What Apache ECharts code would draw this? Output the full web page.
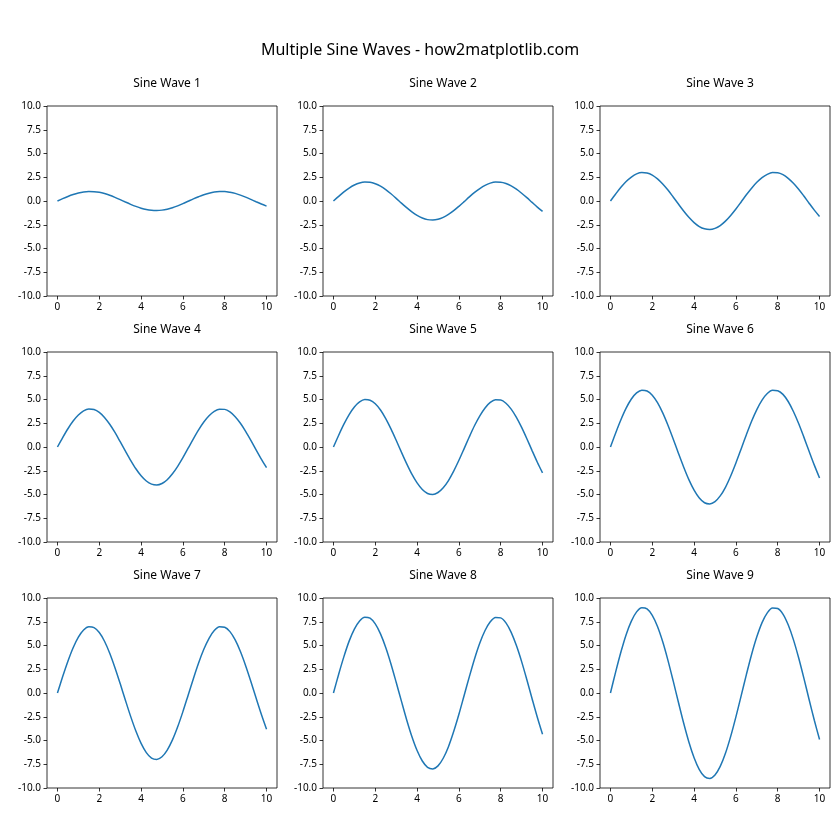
<!DOCTYPE html>
<html><head><meta charset="utf-8">
<script src="https://cdn.jsdelivr.net/npm/echarts@6/dist/echarts.min.js"></script>
<style>html,body{margin:0;padding:0;background:#fff}#c{width:840px;height:840px}</style>
</head><body><div id="c"></div>
<script>
const xValues = [0,0.25,0.5,0.75,1,1.25,1.5,1.75,2,2.25,2.5,2.75,3,3.25,3.5,3.75,4,4.25,4.5,4.75,5,5.25,5.5,5.75,6,6.25,6.5,6.75,7,7.25,7.5,7.75,8,8.25,8.5,8.75,9,9.25,9.5,9.75,10];
const titles = ["Sine Wave 1","Sine Wave 2","Sine Wave 3","Sine Wave 4","Sine Wave 5","Sine Wave 6","Sine Wave 7","Sine Wave 8","Sine Wave 9"];
const wave1 = [0,0.25,0.48,0.68,0.84,0.95,1.0,0.98,0.91,0.78,0.6,0.38,0.14,-0.11,-0.35,-0.57,-0.76,-0.9,-0.98,-1.0,-0.96,-0.86,-0.71,-0.51,-0.28,-0.03,0.22,0.45,0.66,0.82,0.94,0.99,0.99,0.92,0.8,0.62,0.41,0.17,-0.08,-0.32,-0.54];
const wave2 = [0,0.49,0.96,1.36,1.68,1.9,1.99,1.97,1.82,1.56,1.2,0.76,0.28,-0.22,-0.7,-1.14,-1.51,-1.79,-1.96,-2.0,-1.92,-1.72,-1.41,-1.02,-0.56,-0.07,0.43,0.9,1.31,1.65,1.88,1.99,1.98,1.85,1.6,1.25,0.82,0.35,-0.15,-0.64,-1.09];
const wave3 = [0,0.74,1.44,2.05,2.52,2.85,2.99,2.95,2.73,2.33,1.79,1.15,0.42,-0.32,-1.05,-1.72,-2.27,-2.69,-2.93,-3.0,-2.88,-2.58,-2.12,-1.52,-0.84,-0.1,0.65,1.35,1.97,2.47,2.81,2.99,2.97,2.77,2.39,1.87,1.24,0.52,-0.23,-0.96,-1.63];
const wave4 = [0,0.99,1.92,2.73,3.36,3.8,3.99,3.94,3.64,3.11,2.39,1.53,0.56,-0.43,-1.4,-2.29,-3.03,-3.58,-3.91,-4.0,-3.84,-3.44,-2.82,-2.03,-1.12,-0.13,0.86,1.8,2.63,3.29,3.75,3.98,3.96,3.69,3.19,2.5,1.65,0.7,-0.3,-1.28,-2.18];
const wave5 = [0,1.24,2.4,3.41,4.21,4.74,4.99,4.92,4.55,3.89,2.99,1.91,0.71,-0.54,-1.75,-2.86,-3.78,-4.47,-4.89,-5.0,-4.79,-4.29,-3.53,-2.54,-1.4,-0.17,1.08,2.26,3.28,4.11,4.69,4.97,4.95,4.61,3.99,3.12,2.06,0.87,-0.38,-1.6,-2.72];
const wave6 = [0,1.48,2.87,4.09,5.05,5.69,5.98,5.9,5.46,4.67,3.59,2.29,0.85,-0.65,-2.1,-3.43,-4.54,-5.37,-5.87,-5.99,-5.75,-5.15,-4.24,-3.05,-1.68,-0.2,1.29,2.71,3.94,4.94,5.63,5.97,5.93,5.54,4.79,3.74,2.47,1.04,-0.45,-1.91,-3.26];
const wave7 = [0,1.73,3.35,4.77,5.89,6.64,6.98,6.89,6.36,5.45,4.19,2.67,0.99,-0.76,-2.46,-4.0,-5.3,-6.27,-6.85,-6.99,-6.71,-6.01,-4.94,-3.56,-1.96,-0.23,1.51,3.16,4.6,5.76,6.57,6.97,6.92,6.46,5.59,4.37,2.88,1.22,-0.53,-2.23,-3.81];
const wave8 = [0,1.98,3.83,5.46,6.73,7.59,7.98,7.87,7.27,6.22,4.79,3.06,1.13,-0.86,-2.81,-4.58,-6.06,-7.16,-7.82,-7.99,-7.67,-6.87,-5.65,-4.06,-2.24,-0.26,1.72,3.61,5.26,6.58,7.5,7.96,7.91,7.38,6.38,4.99,3.3,1.39,-0.6,-2.55,-4.35];
const wave9 = [0,2.22,4.31,6.14,7.57,8.54,8.97,8.86,8.18,7.0,5.39,3.44,1.27,-0.97,-3.16,-5.15,-6.81,-8.06,-8.8,-8.99,-8.63,-7.73,-6.35,-4.57,-2.51,-0.3,1.94,4.06,5.91,7.41,8.44,8.96,8.9,8.31,7.18,5.62,3.71,1.57,-0.68,-2.87,-4.9];
const waves = [wave1,wave2,wave3,wave4,wave5,wave6,wave7,wave8,wave9];
const xTicks = [0,2,4,6,8,10];

const FONT = "'Noto Sans', 'DejaVu Sans', sans-serif";
const colLeft = [47, 323, 600];
const rowTop = [106, 352, 598];
const W = 230, H = 190;

const chart = echarts.init(document.getElementById('c'), null, {renderer:'canvas'});
const grids = [], xAxes = [], yAxes = [], series = [], titleList = [];
titleList.push({text:'Multiple Sine Waves - how2matplotlib.com', left:'center', top:37,
  textStyle:{fontFamily:FONT, fontSize:16, fontWeight:'normal', color:'#000'}});
for (let i=0;i<9;i++){
  const r = Math.floor(i/3), c = i%3;
  grids.push({left:colLeft[c], top:rowTop[r], width:W, height:H, show:true, borderColor:'#000', borderWidth:0.8, backgroundColor:'transparent', containLabel:false});
  titleList.push({text:titles[i], left:colLeft[c]+W/2, top:rowTop[r]-33, textAlign:'center',
    textStyle:{fontFamily:FONT, fontSize:12, fontWeight:'normal', color:'#000'}});
  xAxes.push({type:'value', gridIndex:i, min:-0.5, max:10.5, position:'bottom',
    axisLine:{show:false, onZero:false}, splitLine:{show:false},
    axisTick:{show:true, inside:false, length:3.5, customValues:xTicks, lineStyle:{color:'#000', width:0.8}},
    axisLabel:{customValues:xTicks, fontFamily:FONT, fontSize:10, color:'#000', margin:6}});
  yAxes.push({type:'value', gridIndex:i, min:-10, max:10, interval:2.5, position:'left',
    axisLine:{show:false, onZero:false}, splitLine:{show:false},
    axisTick:{show:true, inside:false, length:3.5, lineStyle:{color:'#000', width:0.8}},
    axisLabel:{fontFamily:FONT, fontSize:10, color:'#000', margin:6, formatter:v=>v.toFixed(1)}});
  series.push({type:'line', xAxisIndex:i, yAxisIndex:i, showSymbol:false, smooth:0.3,
    data:xValues.map((x,j)=>[x, waves[i][j]]),
    lineStyle:{color:'#1f77b4', width:1.5}, itemStyle:{color:'#1f77b4'}, animation:false});
}
chart.setOption({animation:false, title:titleList, grid:grids, xAxis:xAxes, yAxis:yAxes, series:series});
</script></body></html>
